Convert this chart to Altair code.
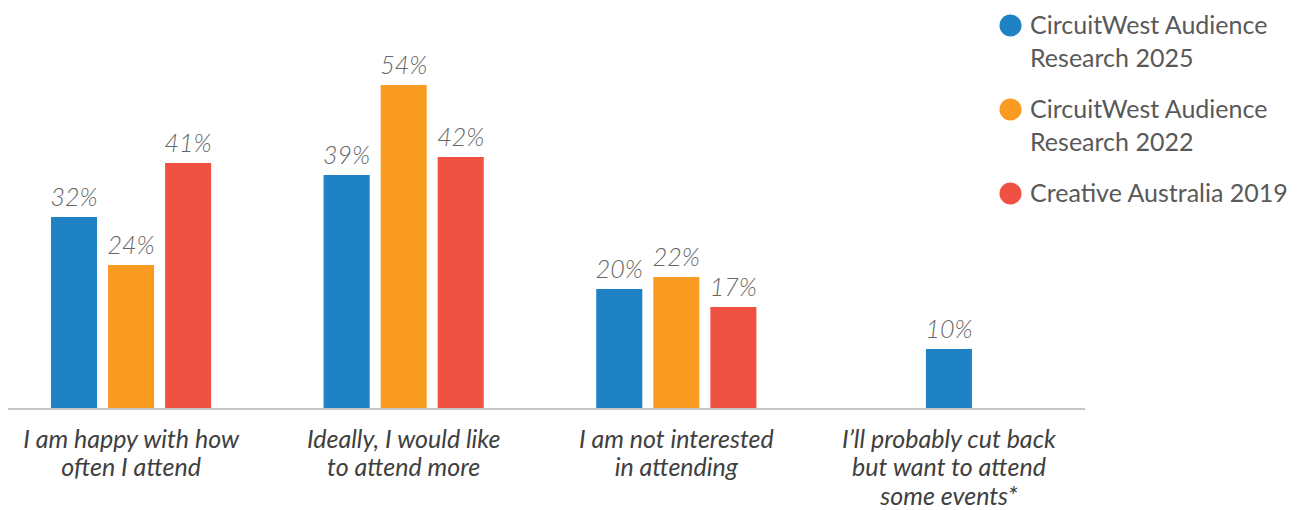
import altair as alt
import pandas as pd

categories = [
    "I am happy with how\noften I attend",
    "Ideally, I would like\nto attend more",
    "I am not interested\nin attending",
    "I\u2019ll probably cut back\nbut want to attend\nsome events*",
]
series = [
    "CircuitWest Audience\nResearch 2025",
    "CircuitWest Audience\nResearch 2022",
    "Creative Australia 2019",
]
values_2025 = [32, 39, 20, 10]
values_2022 = [24, 54, 22, None]
values_2019 = [41, 42, 17, None]
colors = ["#1e82c4", "#f89b20", "#ef5142"]

rows = []
for s, vals in zip(series, [values_2025, values_2022, values_2019]):
    for c, v in zip(categories, vals):
        if v is not None:
            rows.append({"category": c, "series": s, "value": v})
df = pd.DataFrame(rows)
counts = df.groupby("category")["series"].transform("count")
# a lone bar sits in the middle slot of its group
df["slot"] = [s if n > 1 else series[1] for s, n in zip(df["series"], counts)]
df["label"] = df["value"].astype(int).astype(str) + "%"

FONT = "Lato"

x = alt.X(
    "category:N",
    sort=categories,
    scale=alt.Scale(paddingInner=0.4, paddingOuter=0.1514),
    axis=alt.Axis(
        title=None,
        domain=False,
        ticks=False,
        labelAngle=0,
        labelFont=FONT,
        labelFontStyle="italic",
        labelFontSize=25,
        labelColor="#404040",
        labelLineHeight=28.5,
        labelPadding=18,
        labelLimit=400,
        labelBaseline="top",
        labelExpr="split(datum.label, '\\n')",
    ),
)
xoff = alt.XOffset(
    "slot:N", sort=series, scale=alt.Scale(paddingInner=0.193, paddingOuter=0.03)
)
y = alt.Y("value:Q", scale=alt.Scale(domain=[0, 60]), axis=None)

base = alt.Chart(df).encode(x=x, xOffset=xoff, y=y)

bars = base.mark_bar().encode(
    color=alt.Color(
        "series:N",
        sort=series,
        scale=alt.Scale(domain=series, range=colors),
        legend=alt.Legend(
            title=None,
            orient="none",
            legendX=990,
            legendY=-36,
            symbolType="circle",
            symbolSize=484,
            symbolStrokeWidth=0,
            labelFont=FONT,
            labelFontSize=25,
            labelColor="#595959",
            labelExpr="split(datum.label, '\\n')",
            labelOffset=7,
            labelLimit=400,
            rowPadding=25,
        ),
    )
)

texts = base.mark_text(
    font=FONT,
    fontStyle="italic",
    fontWeight=300,
    fontSize=25,
    color="#666666",
    baseline="alphabetic",
    dy=-11,
).encode(text="label:N")

rule = (
    alt.Chart(pd.DataFrame({"a": [0]}))
    .mark_rule(color="#c6c6c6", strokeWidth=2)
    .encode(x=alt.value(0), x2=alt.value(1077), y=alt.value(360))
)

chart = (
    alt.layer(bars, texts, rule)
    .properties(
        width=1064,
        height=360,
        autosize=alt.AutoSizeParams(type="none"),
        padding={"left": 8, "top": 49, "right": 230, "bottom": 101},
    )
    .configure(style={"guide-label": {"lineHeight": 33}})
    .configure_view(stroke=None)
)

chart.save("out.html", embed_options={"renderer": "svg", "actions": False})
